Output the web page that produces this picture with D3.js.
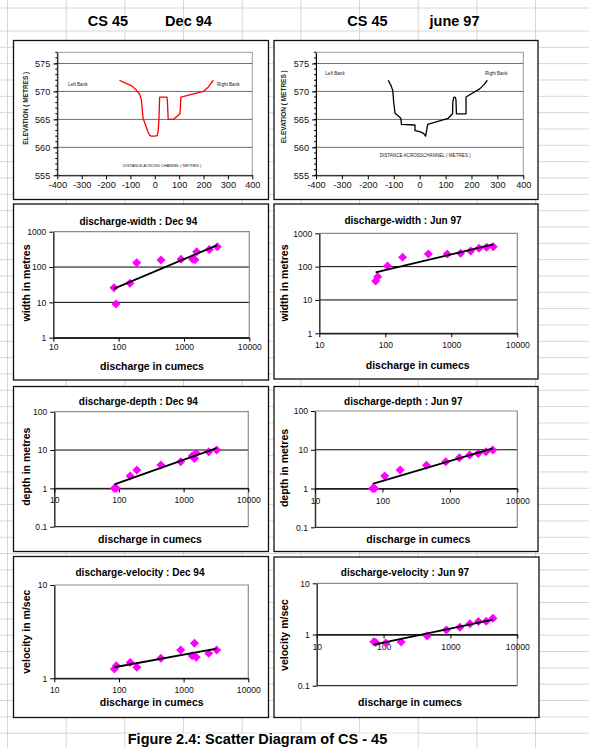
<!DOCTYPE html>
<html><head><meta charset="utf-8">
<script src="https://cdn.jsdelivr.net/npm/d3@7"></script>
<style>
body{margin:0;background:#fff}
svg{display:block}
text{font-family:"Liberation Sans",Arial,Helvetica,sans-serif}
</style>
</head><body>
<svg id="c" width="589" height="748"></svg>
<script>
// ---------------- DATA ----------------
const sheetTitles = ["CS 45", "Dec 94", "CS 45", "june 97"];
const caption = "Figure 2.4: Scatter Diagram of CS - 45";

// Cross-section profiles (distance across channel m, elevation m)
const profileDec94Dist = [-145,-120,-95,-75,-62,-55,-52,-48,-38,-28,-20,-13,0,10,14,17,20,50,52,55,76,103,105,107,199,220,240];
const profileDec94Elev = [572,571.5,571,570.2,569.5,568.5,567,565.2,564,562.8,562.1,562,562,562.1,563,565,569,569,568,565,565,566,567,569,570,570.8,572];
const profileJun97Dist = [-121,-110,-104,-100,-95,-80,-73,-70,-18,-18,0,15,23,31,110,127,128,131,136,140,142,179,179,233,250,261];
const profileJun97Elev = [572,571,570.2,568,566.1,565.5,565.2,564.1,564,563,562.8,562.5,562,564.1,565.2,566,568,568.9,569,568.6,566,566,569,570.5,571.3,572];
const elevTicks = [555,560,565,570,575];
const distTicks = [-400,-300,-200,-100,0,100,200,300,400];

// Hydraulic geometry observations
const dischargeDec94 = [85, 91, 149, 189, 445, 900, 1357, 1472, 1563, 2443, 3236];
const widthDec94     = [26, 9, 34.5, 133, 158, 165, 165, 160, 272, 316, 376];
const depthDec94     = [1.0, 1.0, 2.1, 3.0, 4.06, 4.97, 7.0, 6.0, 8.2, 9.0, 10];
const velocityDec94  = [1.26, 1.36, 1.48, 1.31, 1.64, 2.01, 1.74, 2.37, 1.68, 1.85, 2.01];

const dischargeJun97 = [71.5, 76.6, 108, 183, 449, 869, 1383, 1963, 2625, 3428, 4325];
const widthJun97     = [37, 50, 105, 190, 240, 240, 251, 295, 355, 380, 398];
const depthJun97     = [1.0, 1.0, 2.1, 3.0, 4.0, 4.9, 6.2, 7.3, 8.0, 8.9, 9.8];
const velocityJun97  = [0.72, 0.70, 0.68, 0.71, 0.93, 1.23, 1.39, 1.62, 1.79, 1.82, 2.08];

const dischargeTicks = [10, 100, 1000, 10000];
const widthTicks = [1, 10, 100, 1000];
const depthTicks = [0.1, 1, 10, 100];
const velTicksDec = [1, 10];
const velTicksJun = [0.1, 1, 10];

// ---------------- DRAWING ----------------
const svg = d3.select('#c');
const W = 589, H = 748;

// spreadsheet background grid
const gridG = svg.append('g').attr('stroke', '#d6d6d6').attr('stroke-width', 1);
d3.range(7.5, W, 58.67).forEach(x => gridG.append('line').attr('x1', x).attr('x2', x).attr('y1', 0).attr('y2', H));
[8].concat(d3.range(31, 734, 16.33)).forEach(y => gridG.append('line').attr('x1', 0).attr('x2', W).attr('y1', y).attr('y2', y));

// header
const hdrX = [108, 188.5, 367.5, 454.5];
sheetTitles.forEach((t, i) => svg.append('text').attr('x', hdrX[i]).attr('y', 26)
  .attr('text-anchor', 'middle').attr('font-size', 14.5).attr('font-weight', 'bold').text(t));

// caption (merged cell)
svg.append('rect').attr('x', 125.5).attr('y', 733.5).attr('width', 292).attr('height', 15).attr('fill', '#fff');
svg.append('text').attr('x', 257.5).attr('y', 744).attr('text-anchor', 'middle')
  .attr('font-size', 14.5).attr('font-weight', 'bold').text(caption);

function panel(x, y, w, h) {
  svg.append('rect').attr('x', x).attr('y', y).attr('width', w).attr('height', h)
    .attr('fill', '#fff').attr('stroke', '#111').attr('stroke-width', 1.3);
}

function styleAxis(g, fs) {
  g.attr('font-family', null).attr('font-size', null);
  g.selectAll('text').attr('font-size', fs).attr('fill', '#111');
  g.selectAll('line').attr('stroke', '#000');
  g.select('.domain').attr('stroke', '#000');
}

// ---------- cross-section panel ----------
function crossSection(o) {
  const g = svg.append('g');
  const x = d3.scaleLinear().domain([-400, 400]).range([o.x0, o.x1]);
  const y = d3.scaleLinear().domain([555, 577]).range([o.y1, o.y0]);
  g.append('rect').attr('x', o.x0).attr('y', o.y0).attr('width', o.x1 - o.x0).attr('height', o.y1 - o.y0)
    .attr('fill', 'none').attr('stroke', '#9a9a9a').attr('stroke-width', 1);
  elevTicks.slice(1).forEach(t => g.append('line').attr('x1', o.x0).attr('x2', o.x1)
    .attr('y1', y(t)).attr('y2', y(t)).attr('stroke', '#6e6e6e').attr('stroke-width', 1));
  // minor ticks on y
  d3.range(555, 578, 1).forEach(t => g.append('line').attr('x1', o.x0 - 2).attr('x2', o.x0)
    .attr('y1', y(t)).attr('y2', y(t)).attr('stroke', '#000'));
  const ya = g.append('g').attr('transform', `translate(${o.x0},0)`)
    .call(d3.axisLeft(y).tickValues(elevTicks).tickSize(4).tickSizeOuter(0).tickPadding(3));
  styleAxis(ya, 9.2);
  const xa = g.append('g').attr('transform', `translate(0,${o.y1})`)
    .call(d3.axisBottom(x).tickValues(distTicks).tickFormat(d => String(d)).tickSize(4).tickSizeOuter(0).tickPadding(2));
  styleAxis(xa, 9.2);
  const line = d3.line().x(d => x(d[0])).y(d => y(d[1]));
  g.append('path').datum(o.dist.map((d, i) => [d, o.elev[i]])).attr('d', line)
    .attr('fill', 'none').attr('stroke', o.color).attr('stroke-width', 1.3).attr('stroke-linejoin', 'round');
  g.append('text').attr('x', o.lb[0]).attr('y', o.lb[1]).attr('text-anchor', 'middle').attr('font-size', 4.6).attr('fill', '#222').text('Left Bank');
  g.append('text').attr('x', o.rb[0]).attr('y', o.rb[1]).attr('text-anchor', 'middle').attr('font-size', 4.6).attr('fill', '#222').text('Right Bank');
  g.append('text').attr('x', o.dl[0]).attr('y', o.dl[1]).attr('text-anchor', 'middle').attr('font-size', o.dlfs).attr('fill', '#222').text(o.dtext);
  g.append('text').attr('transform', `translate(${o.el[0]},${o.el[1]}) rotate(-90)`).attr('text-anchor', 'middle')
    .attr('font-size', 6.5).attr('font-weight', 'bold').attr('fill', '#222').text('ELEVATION  ( METRES )');
}

// ---------- scatter panel ----------
function powerFit(q, v) {
  const lx = q.map(Math.log10), ly = v.map(Math.log10);
  const mx = d3.mean(lx), my = d3.mean(ly);
  const b = d3.sum(lx, (d, i) => (d - mx) * (ly[i] - my)) / d3.sum(lx, d => (d - mx) * (d - mx));
  const a = my - b * mx;
  return xv => Math.pow(10, a + b * Math.log10(xv));
}
const fmt = d => d >= 1 ? d3.format('d')(d) : String(d);

function scatter(o) {
  const g = svg.append('g');
  const x = d3.scaleLog().domain([10, 10000]).range([o.x0, o.x1]);
  const y = d3.scaleLog().domain([o.yTicks[0], o.yTicks[o.yTicks.length - 1]]).range([o.y1, o.y0]);
  // gridlines (black) except top
  o.yTicks.slice(0, -1).forEach(t => g.append('line').attr('x1', o.x0).attr('x2', o.x1)
    .attr('y1', y(t)).attr('y2', y(t)).attr('stroke', '#000').attr('stroke-width', 1));
  // plot border grey (top/right)
  g.append('path').attr('d', `M${o.x0},${o.y0}H${o.x1}V${o.y1}`).attr('fill', 'none').attr('stroke', '#8c8c8c').attr('stroke-width', 1.2);
  // y axis
  const ya = g.append('g').attr('transform', `translate(${o.x0},0)`)
    .call(d3.axisLeft(y).tickValues(o.yTicks).tickFormat(fmt).tickSize(4).tickSizeOuter(0).tickPadding(3));
  styleAxis(ya, 8.6);
  ya.select('.domain').attr('stroke-width', 1.5).attr('stroke', '#333');
  // x axis at y=axisAt
  const ay = y(o.axisAt);
  const xa = g.append('g').attr('transform', `translate(0,${ay})`)
    .call(d3.axisBottom(x).tickValues(dischargeTicks).tickFormat(fmt).tickSize(4).tickSizeOuter(0).tickPadding(o.labelPad));
  styleAxis(xa, 8.6);
  xa.select('.domain').attr('stroke-width', 1.5).attr('stroke', '#222');
  // markers
  const r = 4.5;
  const pts = o.q.map((q, i) => [x(q), y(o.v[i])]);
  g.selectAll(null).data(pts).enter().append('path')
    .attr('d', d => `M${d[0]},${d[1] - r}L${d[0] + r},${d[1]}L${d[0]},${d[1] + r}L${d[0] - r},${d[1]}Z`)
    .attr('fill', '#ff00ff');
  // power trendline
  const f = powerFit(o.q, o.v);
  const qmin = d3.min(o.q), qmax = d3.max(o.q);
  g.append('line').attr('x1', x(qmin)).attr('y1', y(f(qmin))).attr('x2', x(qmax)).attr('y2', y(f(qmax)))
    .attr('stroke', '#000').attr('stroke-width', 1.8);
  // texts
  g.append('text').attr('x', o.title[0]).attr('y', o.title[1] + 3.5).attr('text-anchor', 'middle')
    .attr('font-size', 10).attr('font-weight', 'bold').text(o.titleText);
  g.append('text').attr('x', o.xl[0]).attr('y', o.xl[1] + 3.7).attr('text-anchor', 'middle')
    .attr('font-size', 10.5).attr('font-weight', 'bold').text('discharge in cumecs');
  g.append('text').attr('transform', `translate(${o.yl[0] + 3.7},${o.yl[1]}) rotate(-90)`).attr('text-anchor', 'middle')
    .attr('font-size', 10.5).attr('font-weight', 'bold').text(o.yText);
}

// panels
panel(13.5, 40.5, 255, 159);  panel(274, 40.5, 264, 159);
panel(13.5, 204, 255, 176);   panel(274, 204, 264, 175);
panel(13.5, 386.5, 255, 165); panel(274, 386.5, 264, 165);
panel(13.5, 556.5, 255, 161); panel(274, 557, 265, 160.5);

crossSection({x0: 57.3, x1: 252.3, y0: 52.3, y1: 175.3, dist: profileDec94Dist, elev: profileDec94Elev, color: '#ff0000',
  lb: [77.8, 86.2], rb: [228.3, 86.2], dl: [162.2, 167.2], dlfs: 3.9, dtext: 'DISTANCE ACROSS CHANNEL   ( METRES )', el: [27.5, 108.3]});
crossSection({x0: 316, x1: 523.3, y0: 52.3, y1: 175.3, dist: profileJun97Dist, elev: profileJun97Elev, color: '#000',
  lb: [335, 74.5], rb: [496.3, 74.5], dl: [425.2, 157], dlfs: 4.6, dtext: 'DISTANCE ACROSSCHANNEL  ( METRES )', el: [285.5, 106.8]});

scatter({x0: 53.3, x1: 249.3, y0: 231.7, y1: 337.7, yTicks: widthTicks, axisAt: 1, labelPad: 2,
  q: dischargeDec94, v: widthDec94, title: [138.3, 221], titleText: 'discharge-width : Dec 94',
  xl: [152, 366], yl: [26, 283], yText: 'width in metres'});
scatter({x0: 319.3, x1: 517.3, y0: 233.3, y1: 333.3, yTicks: widthTicks, axisAt: 1, labelPad: 5,
  q: dischargeJun97, v: widthJun97, title: [403, 220.7], titleText: 'discharge-width : Jun 97',
  xl: [417.7, 365.7], yl: [284.5, 283], yText: 'width in metres'});
scatter({x0: 54.3, x1: 248.3, y0: 411.7, y1: 526.7, yTicks: depthTicks, axisAt: 1, labelPad: 5,
  q: dischargeDec94, v: depthDec94, title: [138.3, 401.7], titleText: 'discharge-depth :  Dec 94',
  xl: [150, 539], yl: [26.5, 466.7], yText: 'depth in metres'});
scatter({x0: 315, x1: 517.3, y0: 411, y1: 527.3, yTicks: depthTicks, axisAt: 1, labelPad: 5,
  q: dischargeJun97, v: depthJun97, title: [403.3, 401], titleText: 'discharge-depth : Jun 97',
  xl: [418.3, 539], yl: [284.5, 468], yText: 'depth in metres'});
scatter({x0: 54.3, x1: 248.3, y0: 585, y1: 678.3, yTicks: velTicksDec, axisAt: 1, labelPad: 4.5,
  q: dischargeDec94, v: velocityDec94, title: [140, 572.3], titleText: 'discharge-velocity : Dec 94',
  xl: [151.7, 702.7], yl: [26.5, 631.7], yText: 'velocity in m/sec'});
scatter({x0: 316.7, x1: 517.3, y0: 583.3, y1: 685.7, yTicks: velTicksJun, axisAt: 1, labelPad: 5,
  q: dischargeJun97, v: velocityJun97, title: [405, 572.7], titleText: 'discharge-velocity : Jun 97',
  xl: [410, 702.7], yl: [284.5, 635], yText: 'velocity m/sec'});
</script>
</body></html>
